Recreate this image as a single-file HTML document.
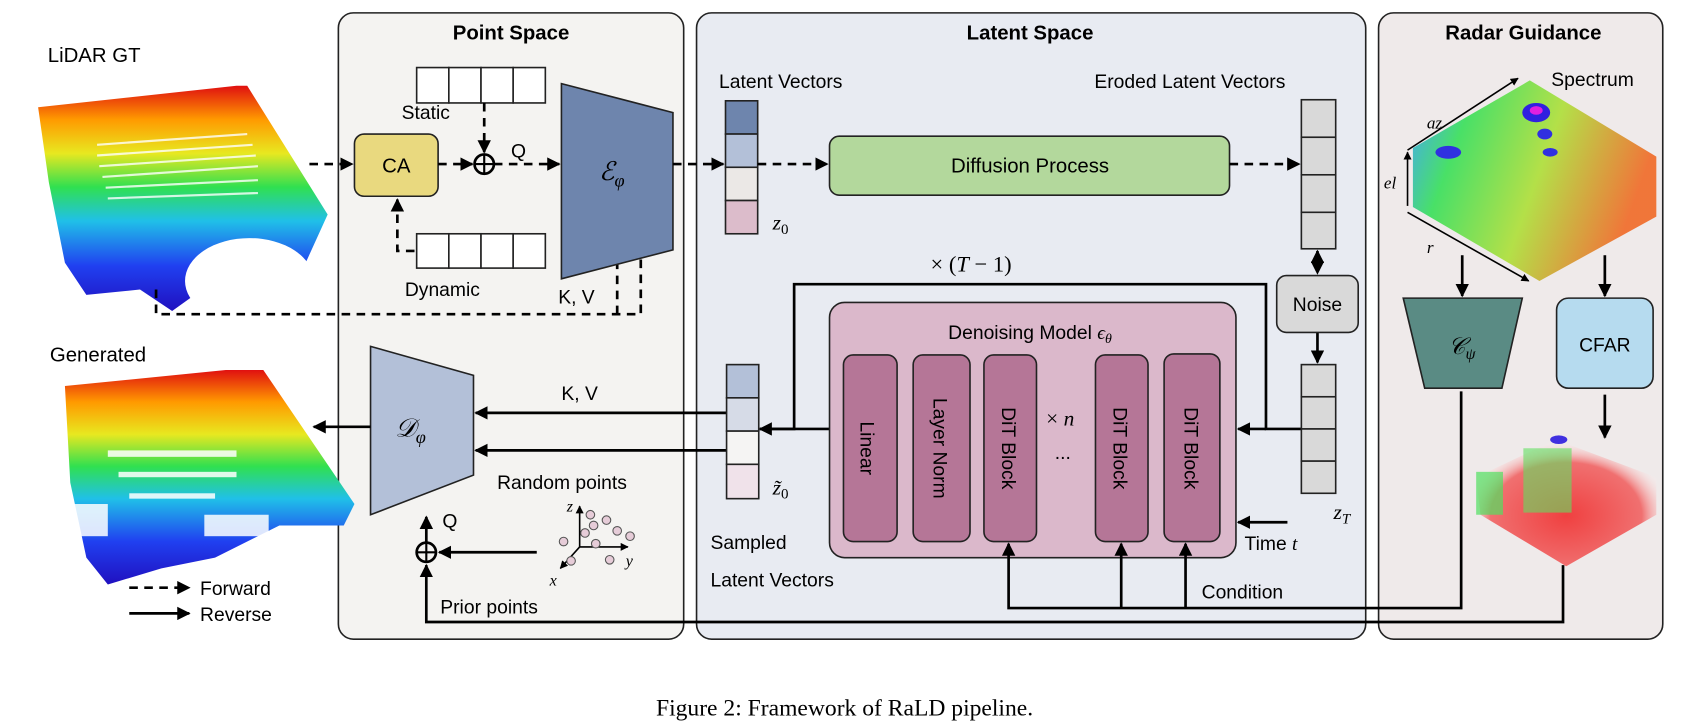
<!DOCTYPE html>
<html><head><meta charset="utf-8"><style>
html,body{margin:0;padding:0;background:#fff;}
svg{display:block;}
text{font-family:"Liberation Sans","DejaVu Sans",sans-serif;}
.m{font-family:"Liberation Serif",serif;font-style:italic;}
</style></head><body>
<svg width="1688" height="726" viewBox="0 0 1573 677" xmlns="http://www.w3.org/2000/svg">
<defs>
<marker id="a" viewBox="0 0 10 10" refX="9" refY="5" markerWidth="5" markerHeight="5" orient="auto"><path d="M0,0L10,5L0,10z" fill="#000"/></marker>
<linearGradient id="rb" x1="0" y1="0" x2="0" y2="1">
<stop offset="0" stop-color="#e01010"/><stop offset="0.15" stop-color="#ff9a00"/><stop offset="0.3" stop-color="#e8e820"/><stop offset="0.45" stop-color="#30e050"/><stop offset="0.6" stop-color="#20c0e8"/><stop offset="0.8" stop-color="#2040f0"/><stop offset="1" stop-color="#2010c0"/></linearGradient>
<linearGradient id="sp" x1="0" y1="0" x2="1" y2="0.3">
<stop offset="0" stop-color="#3aa0ff"/><stop offset="0.25" stop-color="#40e060"/><stop offset="0.6" stop-color="#b0e040"/><stop offset="1" stop-color="#f07030"/></linearGradient>
<radialGradient id="rd" cx="0.5" cy="0.6" r="0.6"><stop offset="0" stop-color="#f04040"/><stop offset="0.7" stop-color="#f07070"/><stop offset="1" stop-color="#fff" stop-opacity="0"/></radialGradient>
</defs>
<rect x="315" y="12" width="322" height="584" rx="14" fill="#f4f3f1" stroke="#222" stroke-width="1.5"/>
<rect x="649" y="12" width="624" height="584" rx="14" fill="#e8ebf2" stroke="#222" stroke-width="1.5"/>
<rect x="1285" y="12" width="265" height="584" rx="14" fill="#efeaea" stroke="#222" stroke-width="1.5"/>
<text x="476" y="37" font-size="19" font-weight="bold" text-anchor="middle">Point Space</text>
<text x="960" y="37" font-size="19" font-weight="bold" text-anchor="middle">Latent Space</text>
<text x="1420" y="37" font-size="19" font-weight="bold" text-anchor="middle">Radar Guidance</text>
<!-- LiDAR GT cloud -->
<text x="44" y="58" font-size="19">LiDAR GT</text>
<polygon points="35,100 220,80 230,80 305,200 280,255 240,245 195,265 160,290 130,270 80,275 60,245 45,170" fill="url(#rb)"/>
<ellipse cx="232" cy="262" rx="60" ry="40" fill="#fff"/>
<g stroke="#fff" stroke-width="2" opacity="0.8"><line x1="90" y1="135" x2="230" y2="125"/><line x1="90" y1="145" x2="235" y2="135"/><line x1="92" y1="155" x2="238" y2="145"/><line x1="95" y1="165" x2="240" y2="155"/><line x1="98" y1="175" x2="240" y2="168"/><line x1="100" y1="185" x2="240" y2="180"/></g>
<!-- Generated cloud -->
<text x="46" y="337" font-size="19">Generated</text>
<polygon points="60,360 210,345 245,345 330,470 320,490 260,490 200,520 150,530 100,545 80,520 65,450" fill="url(#rb)"/>
<g fill="#fff" opacity="0.85"><rect x="100" y="420" width="120" height="6"/><rect x="110" y="440" width="110" height="5"/><rect x="120" y="460" width="80" height="5"/><rect x="60" y="470" width="40" height="30"/><rect x="190" y="480" width="60" height="20"/></g>
<!-- legend -->
<line x1="120" y1="548" x2="176" y2="548" stroke="#000" stroke-width="2.5" stroke-dasharray="8,6" marker-end="url(#a)"/>
<text x="186" y="555" font-size="18">Forward</text>
<line x1="120" y1="572" x2="176" y2="572" stroke="#000" stroke-width="2.5" marker-end="url(#a)"/>
<text x="186" y="579" font-size="18">Reverse</text>
<!-- static / dynamic -->
<g fill="#fff" stroke="#222" stroke-width="1.5"><rect x="388" y="63" width="30" height="33"/><rect x="418" y="63" width="30" height="33"/><rect x="448" y="63" width="30" height="33"/><rect x="478" y="63" width="30" height="33"/>
<rect x="388" y="218" width="30" height="32"/><rect x="418" y="218" width="30" height="32"/><rect x="448" y="218" width="30" height="32"/><rect x="478" y="218" width="30" height="32"/></g>
<text x="374" y="111" font-size="18">Static</text>
<text x="377" y="276" font-size="18">Dynamic</text>
<rect x="330" y="125" width="78" height="58" rx="9" fill="#e9d97f" stroke="#222" stroke-width="1.5"/>
<text x="369" y="161" font-size="19" text-anchor="middle">CA</text>
<g stroke="#000" stroke-width="2.5" fill="none">
<line x1="288" y1="153" x2="328" y2="153" stroke-dasharray="8,6" marker-end="url(#a)"/>
<line x1="408" y1="153" x2="440" y2="153" stroke-dasharray="8,6" marker-end="url(#a)"/>
<line x1="451" y1="96" x2="451" y2="142" stroke-dasharray="8,6" marker-end="url(#a)"/>
<line x1="460" y1="153" x2="521" y2="153" stroke-dasharray="8,6" marker-end="url(#a)"/>
<polyline points="386,234 370,234 370,186" stroke-dasharray="8,6" marker-end="url(#a)"/>
<polyline points="145,270 145,293 597,293 597,224" stroke-dasharray="8,6" marker-end="url(#a)"/>
<line x1="575" y1="293" x2="575" y2="224" stroke-dasharray="8,6" marker-end="url(#a)"/>
</g>
<circle cx="451" cy="153" r="9" fill="none" stroke="#000" stroke-width="2.5"/><line x1="442" y1="153" x2="460" y2="153" stroke="#000" stroke-width="2"/><line x1="451" y1="144" x2="451" y2="162" stroke="#000" stroke-width="2"/>
<text x="476" y="147" font-size="18">Q</text>
<text x="520" y="283" font-size="18">K, V</text>
<polygon points="523,78 627,105 627,233 523,260" fill="#6e85ad" stroke="#222" stroke-width="1.5"/>
<text x="558" y="168" font-size="24" class="m">ℰ<tspan font-size="17" dy="6">φ</tspan></text>
<!-- decoder -->
<polygon points="345,323 441,350 441,443 345,480" fill="#b3c0d8" stroke="#222" stroke-width="1.5"/>
<text x="368" y="407" font-size="24" class="m">𝒟<tspan font-size="17" dy="6">φ</tspan></text>
<g stroke="#000" stroke-width="2.5" fill="none">
<line x1="345" y1="398" x2="292" y2="398" marker-end="url(#a)"/>
<line x1="677" y1="385" x2="443" y2="385" marker-end="url(#a)"/>
<line x1="677" y1="420" x2="443" y2="420" marker-end="url(#a)"/>
<line x1="500" y1="515" x2="409" y2="515" marker-end="url(#a)"/>
<line x1="397" y1="506" x2="397" y2="482" marker-end="url(#a)"/>
<polyline points="1457,527 1457,580 397,580 397,527" marker-end="url(#a)"/>
</g>
<circle cx="397" cy="515" r="9" fill="none" stroke="#000" stroke-width="2.5"/><line x1="388" y1="515" x2="406" y2="515" stroke="#000" stroke-width="2"/><line x1="397" y1="506" x2="397" y2="524" stroke="#000" stroke-width="2"/>
<text x="523" y="373" font-size="18">K, V</text>
<text x="463" y="456" font-size="18">Random points</text>
<text x="412" y="492" font-size="18">Q</text>
<text x="410" y="572" font-size="18">Prior points</text>
<g stroke="#000" stroke-width="1.5" fill="none"><line x1="540" y1="510" x2="540" y2="472" marker-end="url(#a)"/><line x1="540" y1="510" x2="585" y2="510" marker-end="url(#a)"/><line x1="540" y1="510" x2="522" y2="530" marker-end="url(#a)"/></g>
<text x="528" y="477" font-size="15" class="m">z</text><text x="583" y="528" font-size="15" class="m">y</text><text x="512" y="546" font-size="15" class="m">x</text>
<g fill="#e6ccd8" stroke="#555" stroke-width="1"><circle cx="550" cy="480" r="4"/><circle cx="565" cy="485" r="4"/><circle cx="575" cy="495" r="4"/><circle cx="555" cy="507" r="4"/><circle cx="568" cy="522" r="4"/><circle cx="553" cy="490" r="4"/><circle cx="525" cy="505" r="4"/><circle cx="545" cy="497" r="4"/><circle cx="587" cy="500" r="4"/><circle cx="532" cy="523" r="4"/></g>
<!-- latent -->
<text x="670" y="82" font-size="18">Latent Vectors</text>
<g stroke="#222" stroke-width="1.5"><rect x="676" y="94" width="30" height="31" fill="#6e85ad"/><rect x="676" y="125" width="30" height="31" fill="#b3c0d8"/><rect x="676" y="156" width="30" height="31" fill="#ebe8e6"/><rect x="676" y="187" width="30" height="31" fill="#dcbccb"/></g>
<text x="720" y="214" font-size="20" class="m">z<tspan font-size="14" dy="4" font-style="normal">0</tspan></text>
<rect x="773" y="127" width="373" height="55" rx="9" fill="#b3d89c" stroke="#222" stroke-width="1.5"/>
<text x="960" y="161" font-size="19" text-anchor="middle">Diffusion Process</text>
<g stroke="#000" stroke-width="2.5" fill="none">
<line x1="627" y1="153" x2="674" y2="153" stroke-dasharray="8,6" marker-end="url(#a)"/>
<line x1="706" y1="153" x2="771" y2="153" stroke-dasharray="8,6" marker-end="url(#a)"/>
<line x1="1146" y1="153" x2="1211" y2="153" stroke-dasharray="8,6" marker-end="url(#a)"/>
<line x1="1228" y1="245" x2="1228" y2="234" marker-end="url(#a)"/>
<line x1="1228" y1="240" x2="1228" y2="255" stroke-dasharray="4,4" marker-end="url(#a)"/>
<line x1="1228" y1="310" x2="1228" y2="338" marker-end="url(#a)"/>
<polyline points="1213,400 1180,400 1180,265 740,265 740,400 708,400" marker-end="url(#a)"/>
<line x1="1180" y1="400" x2="1154" y2="400" marker-end="url(#a)"/>
<line x1="773" y1="400" x2="708" y2="400"/>
<line x1="1200" y1="487" x2="1154" y2="487" marker-end="url(#a)"/>
</g>
<text x="1020" y="82" font-size="18">Eroded Latent Vectors</text>
<g fill="#d9d9d9" stroke="#222" stroke-width="1.5"><rect x="1213" y="93" width="32" height="35"/><rect x="1213" y="128" width="32" height="35"/><rect x="1213" y="163" width="32" height="35"/><rect x="1213" y="198" width="32" height="34"/>
<rect x="1213" y="340" width="32" height="30"/><rect x="1213" y="370" width="32" height="30"/><rect x="1213" y="400" width="32" height="30"/><rect x="1213" y="430" width="32" height="30"/></g>
<text x="1243" y="266" font-size="20" class="m">z<tspan font-size="14" dy="4">T</tspan></text>
<text x="1243" y="484" font-size="20" class="m">z<tspan font-size="14" dy="4">T</tspan></text>
<rect x="1190" y="257" width="76" height="53" rx="9" fill="#d9d9d9" stroke="#222" stroke-width="1.5"/>
<text x="1228" y="290" font-size="18" text-anchor="middle">Noise</text>
<text x="905" y="253" font-size="21" class="m" text-anchor="middle"><tspan font-style="normal">× (</tspan>T<tspan font-style="normal"> − 1)</tspan></text>
<rect x="773" y="282" width="379" height="238" rx="14" fill="#dbb8cb" stroke="#222" stroke-width="1.5"/>
<text x="960" y="316" font-size="18" text-anchor="middle">Denoising Model <tspan class="m">ϵ<tspan font-size="13" dy="4">θ</tspan></tspan></text>
<g fill="#b57697" stroke="#222" stroke-width="1.5"><rect x="786" y="331" width="50" height="174" rx="9"/><rect x="851" y="331" width="53" height="174" rx="9"/><rect x="917" y="331" width="49" height="174" rx="9"/><rect x="1021" y="331" width="49" height="174" rx="9"/><rect x="1085" y="330" width="52" height="175" rx="9"/></g>
<g font-size="18"><text transform="translate(802,418) rotate(90)" text-anchor="middle">Linear</text><text transform="translate(870,418) rotate(90)" text-anchor="middle">Layer Norm</text><text transform="translate(934,418) rotate(90)" text-anchor="middle">DiT Block</text><text transform="translate(1038,418) rotate(90)" text-anchor="middle">DiT Block</text><text transform="translate(1104,418) rotate(90)" text-anchor="middle">DiT Block</text></g>
<text x="975" y="397" font-size="20" class="m"><tspan font-style="normal">× </tspan>n</text>
<text x="983" y="428" font-size="18">...</text>
<g stroke="#000" stroke-width="2.5" fill="none">
<polyline points="1362,365 1362,567 940,567 940,507" marker-end="url(#a)"/>
<line x1="1045" y1="567" x2="1045" y2="507" marker-end="url(#a)"/>
<line x1="1105" y1="567" x2="1105" y2="507" marker-end="url(#a)"/>
</g>
<g stroke="#222" stroke-width="1.5"><rect x="677" y="340" width="30" height="31" fill="#b3c0d8"/><rect x="677" y="371" width="30" height="31" fill="#d6dbe7"/><rect x="677" y="402" width="30" height="31" fill="#f5f4f3"/><rect x="677" y="433" width="30" height="32" fill="#f0e2ea"/></g>
<text x="720" y="461" font-size="20" class="m">z̃<tspan font-size="14" dy="4" font-style="normal">0</tspan></text>
<text x="662" y="512" font-size="18">Sampled</text>
<text x="662" y="547" font-size="18">Latent Vectors</text>
<text x="1160" y="513" font-size="18">Time <tspan class="m">t</tspan></text>
<text x="1120" y="558" font-size="18">Condition</text>
<!-- radar -->
<polygon points="1426,75 1544,146 1544,202 1435,262 1317,193 1317,138" fill="url(#sp)" opacity="0.95"/>
<ellipse cx="1432" cy="105" rx="13" ry="9" fill="#3020e0"/><ellipse cx="1432" cy="103" rx="6" ry="4" fill="#e020e0"/><ellipse cx="1350" cy="142" rx="12" ry="6" fill="#3030e0"/><ellipse cx="1440" cy="125" rx="7" ry="5" fill="#3030e0"/><ellipse cx="1445" cy="142" rx="7" ry="4" fill="#3030e0"/>
<text x="1446" y="80" font-size="18">Spectrum</text>
<g stroke="#000" stroke-width="1.5" fill="none"><line x1="1312" y1="140" x2="1415" y2="73" marker-end="url(#a)"/><line x1="1312" y1="192" x2="1312" y2="142" marker-end="url(#a)"/><line x1="1312" y1="198" x2="1425" y2="262" marker-end="url(#a)"/></g>
<text x="1330" y="120" font-size="16" class="m">az</text><text x="1290" y="176" font-size="16" class="m">el</text><text x="1330" y="236" font-size="16" class="m">r</text>
<g stroke="#000" stroke-width="2.5" fill="none">
<line x1="1363" y1="238" x2="1363" y2="276" marker-end="url(#a)"/>
<line x1="1496" y1="238" x2="1496" y2="276" marker-end="url(#a)"/>
<line x1="1496" y1="368" x2="1496" y2="408" marker-end="url(#a)"/>
</g>
<polygon points="1308,278 1419,278 1400,362 1328,362" fill="#5a8b84" stroke="#222" stroke-width="1.5"/>
<text x="1350" y="330" font-size="22" class="m">𝒞<tspan font-size="15" dy="5">ψ</tspan></text>
<rect x="1451" y="278" width="90" height="84" rx="11" fill="#b6dbef" stroke="#222" stroke-width="1.5"/>
<text x="1496" y="328" font-size="18" text-anchor="middle">CFAR</text>
<polygon points="1376,445 1450,410 1544,445 1544,480 1460,528 1380,480" fill="url(#rd)"/>
<rect x="1376" y="440" width="25" height="40" fill="#50e060" opacity="0.7"/><rect x="1420" y="418" width="45" height="60" fill="#60e060" opacity="0.6"/><ellipse cx="1453" cy="410" rx="8" ry="4" fill="#4030e0"/>
<text x="787" y="667" font-size="22" text-anchor="middle" style="font-family:'Liberation Serif',serif">Figure 2: Framework of RaLD pipeline.</text>
</svg>
</body></html>
